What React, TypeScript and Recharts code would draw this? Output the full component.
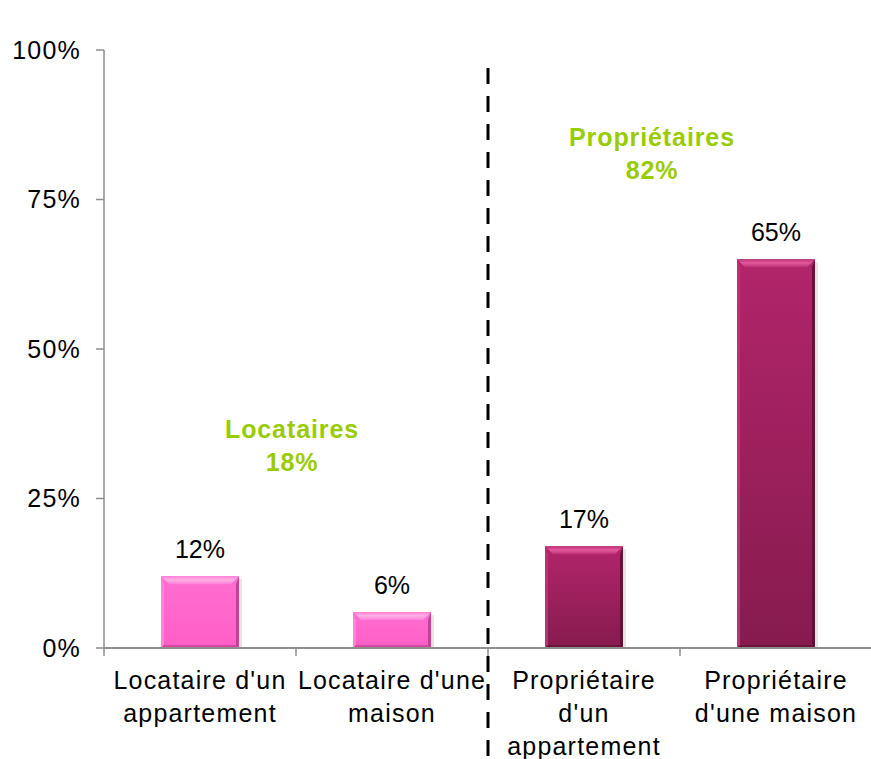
import React from "react";
import { Bar, BarChart, Cell, LabelList, ReferenceLine, XAxis, YAxis } from "recharts";

// categories (line breaks as shown under the axis)
const categories = [
	"Locataire d'un\nappartement",
	"Locataire d'une\nmaison",
	"Propriétaire\nd'un\nappartement",
	"Propriétaire\nd'une maison",
];
const groups = ["locataire", "locataire", "proprietaire", "proprietaire"];
const shares = [12, 6, 17, 65];
const yTicks = [0, 25, 50, 75, 100];
const groupTotals = [
	{ label: "Locataires", value: 18 },
	{ label: "Propriétaires", value: 82 },
];

const data = categories.map((name, i) => ({ name, group: groups[i], value: shares[i] }));

const FONT = "'Liberation Sans', Arial, sans-serif";
const AXIS = "#8e8e8e";
const GREEN = "#99cc00";
const BAND = 192;

const palette: Record<string, { top: string; bottom: string; bevel: string; bevel2: string; light: string; dark: string }> = {
	locataire: { top: "#ff6dd0", bottom: "#ff5fc6", bevel: "#ffb0e8", bevel2: "#ff7ed6", light: "#ff85da", dark: "#b8378f" },
	proprietaire: { top: "#b2256b", bottom: "#861b4e", bevel: "#e25a9c", bevel2: "#bd2f74", light: "#bb3274", dark: "#55102f" },
};

const BevelBar = (props: any) => {
	const { x, y, width, height, payload } = props;
	if (!height || height <= 0) return null;
	const c = palette[payload.group];
	const b = Math.min(8, height / 2);
	const s = 3;
	return (
		<g>
			<rect x={x + 3} y={y + 3} width={width} height={height - 3} fill="rgba(0,0,0,0.10)" />
			<rect x={x} y={y} width={width} height={height} fill={`url(#grad-${payload.group})`} />
			<polygon
				points={`${x},${y} ${x + width},${y} ${x + width - b},${y + b} ${x + b},${y + b}`}
				fill={`url(#bevel-${payload.group})`}
			/>
			<polygon
				points={`${x},${y} ${x + s},${y + b} ${x + s},${y + height - s} ${x},${y + height}`}
				fill={c.light}
			/>
			<polygon
				points={`${x + width},${y} ${x + width - s},${y + b} ${x + width - s},${y + height - s} ${x + width},${y + height}`}
				fill={c.dark}
				opacity={0.8}
			/>
			<polygon
				points={`${x},${y + height} ${x + width},${y + height} ${x + width - s},${y + height - s} ${x + s},${y + height - s}`}
				fill={c.dark}
				opacity={0.6}
			/>
		</g>
	);
};

const CategoryTick = (props: any) => {
	const { x, y, payload } = props;
	const lines = String(payload.value).split("\n");
	return (
		<g>
			<line x1={x - BAND / 2} x2={x - BAND / 2} y1={y} y2={y + 8} stroke={AXIS} strokeWidth={1.5} />
			{lines.map((line, i) => (
				<text
					key={i}
					x={x}
					y={y + 41 + i * 33}
					textAnchor="middle"
					fill="#000"
					fontSize={25}
					fontFamily={FONT}
					style={{ letterSpacing: "1.2px" }}
				>
					{line}
				</text>
			))}
		</g>
	);
};

export default function App() {
	return (
		<div
			style={{
				position: "absolute",
				left: 0,
				top: 0,
				width: 871,
				height: 759,
				overflow: "hidden",
				background: "#fff",
			}}
		>
			<BarChart width={872} height={759} data={data} margin={{ top: 50, right: 0, bottom: 0, left: 0 }}>
				<defs>
					{Object.entries(palette).map(([k, c]) => (
						<linearGradient key={k} id={`grad-${k}`} x1="0" y1="0" x2="0" y2="1">
							<stop offset="0%" stopColor={c.top} />
							<stop offset="100%" stopColor={c.bottom} />
						</linearGradient>
					))}
					{Object.entries(palette).map(([k, c]) => (
						<linearGradient key={`b-${k}`} id={`bevel-${k}`} x1="0" y1="0" x2="0" y2="1">
							<stop offset="0%" stopColor={c.bevel2} />
							<stop offset="45%" stopColor={c.bevel} />
							<stop offset="100%" stopColor={c.bevel2} />
						</linearGradient>
					))}
				</defs>
				<XAxis
					dataKey="name"
					interval={0}
					height={111}
					tickLine={false}
					tickSize={0}
					tickMargin={0}
					axisLine={{ stroke: AXIS, strokeWidth: 2 }}
					tick={<CategoryTick />}
				/>
				<YAxis
					domain={[0, 100]}
					ticks={yTicks}
					interval={0}
					width={104}
					tickFormatter={(v: number) => `${v}%`}
					axisLine={{ stroke: AXIS, strokeWidth: 1.5 }}
					tickLine={{ stroke: AXIS, strokeWidth: 1.5 }}
					tickSize={8}
					tickMargin={15}
					tick={{ fill: "#000", fontSize: 25, fontFamily: FONT, style: { letterSpacing: "1.2px" } }}
				/>
				<ReferenceLine
					segment={[
						{ x: categories[1], y: 97 },
						{ x: categories[1], y: -19 },
					]}
					position="end"
					ifOverflow="visible"
					stroke="#000"
					strokeWidth={3}
					strokeDasharray="16 12"
				/>
				<Bar dataKey="value" barSize={78} isAnimationActive={false} shape={<BevelBar />}>
					{data.map((d, i) => (
						<Cell key={`cell-${i}`} fill={palette[d.group].top} />
					))}
					<LabelList
						dataKey="value"
						position="top"
						offset={18}
						formatter={(v: any) => `${v}%`}
						fill="#000"
						fontSize={25}
						fontFamily={FONT}
					/>
				</Bar>
			</BarChart>
			<svg
				width={871}
				height={759}
				style={{ position: "absolute", left: 0, top: 0, pointerEvents: "none" }}
			>
				{groupTotals.map((g, i) => {
					const cx = i === 0 ? 292 : 652;
					const base = i === 0 ? 438 : 146;
					return (
						<text
							key={g.label}
							textAnchor="middle"
							fill={GREEN}
							fontSize={25}
							fontWeight="bold"
							fontFamily={FONT}
							style={{ letterSpacing: "0.9px" }}
						>
							<tspan x={cx} y={base}>
								{g.label}
							</tspan>
							<tspan x={cx} y={base + 33}>
								{`${g.value}%`}
							</tspan>
						</text>
					);
				})}
			</svg>
		</div>
	);
}
